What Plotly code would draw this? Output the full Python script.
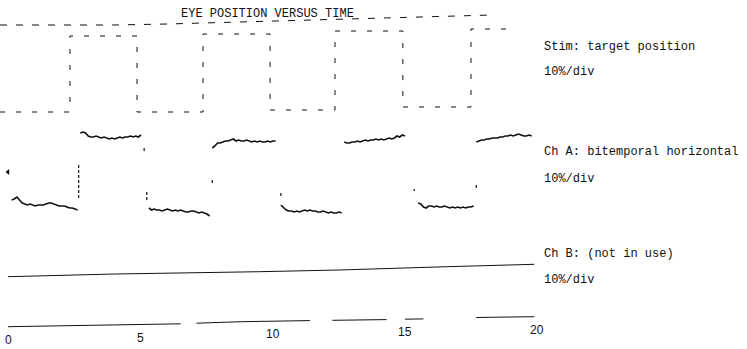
import numpy as np
import plotly.graph_objects as go

# ---------------- data (vertical unit = screen-like units, 0 at top) ----------------
tick_vals = [0, 5, 10, 15, 20]
tick_text = ["0", "5", "10", "15", "20"]

# Stimulus: target position (step changes)
stim_t = [-0.34, 2.31, 4.85, 7.35, 9.89, 12.35, 14.92, 17.5, 18.94]
stim_level = [112, 36, 112, 34, 110, 31, 107, 29, 29]
# upper stimulus reference trace
stim_ref_t = [-0.34, 3.95, 6.0, 10.1, 15.2, 18.3]
stim_ref_y = [25, 25, 24, 21, 17, 15]

# Ch A: bitemporal horizontal (sampled every 0.1 s), segment start times + values
chA_low1_t0, chA_low1 = 0.1, [200, 199, 197, 200, 203, 204, 205, 204, 205, 206, 205, 205, 205,
                              204, 203, 203, 204, 205, 206, 206, 206, 207, 208, 208, 209, 210]
chA_high1_t0, chA_high1 = 2.7, [133, 132, 133, 136, 137, 137, 136, 137, 138, 137, 138, 139,
                                138, 139, 138, 137, 138, 137, 137, 136, 137, 136, 137, 135]
chA_low2_t0, chA_low2 = 5.3, [208, 210, 209, 210, 210, 211, 210, 209, 210, 211, 210, 211,
                              210, 211, 212, 212, 211, 211, 212, 213, 212, 213, 214, 216]
chA_high2_t0, chA_high2 = 7.7, [148, 146, 143, 143, 142, 141, 141, 140, 139, 141, 140, 141, 141,
                                140, 141, 142, 141, 142, 141, 142, 142, 141, 142, 141, 141]
chA_low3_t0, chA_low3 = 10.3, [205, 208, 210, 211, 211, 212, 211, 212, 211, 210, 211, 210,
                               211, 211, 212, 212, 211, 212, 213, 212, 213, 213, 212, 213]
chA_high3_t0, chA_high3 = 12.7, [142, 143, 143, 142, 142, 141, 142, 141, 140, 141, 140, 140,
                                 139, 140, 139, 140, 139, 138, 139, 138, 136, 137, 135, 136]
chA_low4_t0, chA_low4 = 15.5, [203, 204, 207, 208, 206, 206, 207, 206, 207, 207, 206,
                               207, 208, 207, 208, 207, 208, 207, 208, 207, 207, 206]
chA_high4_t0, chA_high4 = 17.7, [142, 141, 140, 140, 139, 139, 138, 138, 138, 137, 137,
                                 136, 136, 135, 136, 135, 134, 135, 136, 136, 135, 136]

# Ch A transition fragments (time, from, to)
trans_t = [2.64, 5.12, 5.22, 7.70, 10.30, 15.35, 17.70]
trans_y0 = [165, 148, 192, 180, 193, 189, 185]
trans_y1 = [198, 152, 202, 184, 198, 191, 190]

# Ch B: (not in use)
chB_t = [-0.04, 4.0, 9.5, 12.5, 16.6, 19.9]
chB_y = [276.7, 274, 271.7, 270, 266.7, 264.3]

# time-axis baseline (scanned, slightly tilted, broken)
base_t = [-0.04, 4.0, 6.5, None, 7.1, 8.8, 11.4, None, 12.25, 13.5, 14.3, None,
          15.0, 15.7, None, 17.7, 19.9]
base_y = [326.7, 325, 323.8, None, 323.2, 321.7, 320.6, None, 320.3, 320, 319.6, None,
          319.2, 318.9, None, 317.5, 316.7]

# ---------------- figure ----------------
INK = "#111111"
fig = go.Figure()

fig.add_trace(go.Scatter(x=stim_ref_t, y=stim_ref_y, mode="lines",
                         line=dict(color=INK, width=1, dash="7px,9px"), hoverinfo="skip"))
fig.add_trace(go.Scatter(x=stim_t, y=stim_level, mode="lines", line_shape="hv",
                         line=dict(color=INK, width=1, dash="5px,11px"), hoverinfo="skip"))

segs = [(chA_low1_t0, chA_low1), (chA_high1_t0, chA_high1), (chA_low2_t0, chA_low2),
        (chA_high2_t0, chA_high2), (chA_low3_t0, chA_low3), (chA_high3_t0, chA_high3),
        (chA_low4_t0, chA_low4), (chA_high4_t0, chA_high4)]
ax, ay = [], []
for t0, vals in segs:
    ax += [round(t0 + 0.1 * i, 2) for i in range(len(vals))] + [None]
    ay += list(vals) + [None]
fig.add_trace(go.Scatter(x=ax, y=ay, mode="lines", line=dict(color=INK, width=1.6),
                         hoverinfo="skip"))

tx, ty = [], []
for t, a, b in zip(trans_t, trans_y0, trans_y1):
    tx += [t, t, None]
    ty += [a, b, None]
fig.add_trace(go.Scatter(x=tx, y=ty, mode="lines",
                         line=dict(color=INK, width=1.2, dash="3px,2px"), hoverinfo="skip"))

fig.add_trace(go.Scatter(x=[-0.04], y=[172], mode="markers",
                         marker=dict(symbol="triangle-left", size=5, color=INK), hoverinfo="skip"))

fig.add_trace(go.Scatter(x=chB_t, y=chB_y, mode="lines", line=dict(color=INK, width=1),
                         hoverinfo="skip"))
fig.add_trace(go.Scatter(x=base_t, y=base_y, mode="lines", line=dict(color=INK, width=1),
                         hoverinfo="skip", connectgaps=False))

# tick labels follow the (tilted) baseline
bt = [v for v in base_t if v is not None]
by = [v for v in base_y if v is not None]
for v, s in zip(tick_vals, tick_text):
    yb = float(np.interp(v, bt, by))
    fig.add_annotation(x=v, y=yb + 13, text=s, showarrow=False, xanchor="center", yanchor="middle",
                       font=dict(family="Liberation Sans", size=12, color=INK))

mono = dict(family="Liberation Mono", size=12, color=INK)
fig.add_annotation(x=9.8, y=14, text="EYE POSITION VERSUS TIME", showarrow=False,
                   xanchor="center", yanchor="middle", font=mono)
right_labels = [("Stim: target position", 47), ("10%/div", 72),
                ("Ch A: bitemporal horizontal", 152), ("10%/div", 179),
                ("Ch B: (not in use)", 254), ("10%/div", 280)]
for s, yy in right_labels:
    fig.add_annotation(x=20.2, y=yy, text=s, showarrow=False, xanchor="left", yanchor="middle",
                       font=mono)

fig.update_layout(
    width=747, height=349, margin=dict(l=0, r=0, t=0, b=0),
    paper_bgcolor="white", plot_bgcolor="white", showlegend=False,
    xaxis=dict(range=[-0.34, 27.955], visible=False, fixedrange=True),
    yaxis=dict(range=[349, 0], visible=False, fixedrange=True),
)
fig.write_html("out.html")
